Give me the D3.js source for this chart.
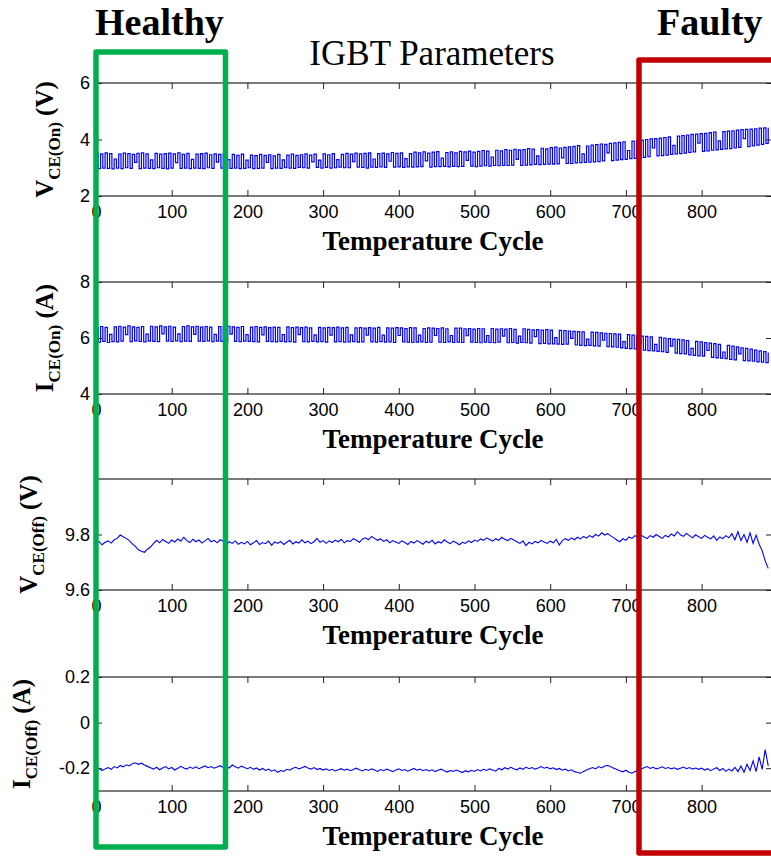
<!DOCTYPE html>
<html>
<head>
<meta charset="utf-8">
<script src="https://cdn.jsdelivr.net/npm/d3@7"></script>
<style>
  html, body { margin: 0; padding: 0; background: #fff; overflow: hidden; }
  svg { display: block; }
</style>
</head>
<body>
<svg id="chart" width="771" height="857"></svg>
<script>
// ---- Data: IGBT parameters over temperature cycles ----
const cycleMax = 893;                       // x-axis limit
const xTicks = [0, 100, 200, 300, 400, 500, 600, 700, 800];

// V_CE(On) [V], sampled every 3 cycles (switching between high/low on-state readings)
const vceOnStep = 3;
const vceOn = [
  3.52,2.97,3.49,2.99,3.53,2.98,3.50,2.96,3.31,2.99,
  3.48,2.97,3.52,3.00,3.50,2.98,3.47,3.19,3.51,2.97,
  3.53,2.99,3.49,2.98,3.28,2.97,3.51,3.00,3.48,2.98,
  3.50,2.96,3.52,2.99,3.49,3.18,3.53,2.98,3.47,2.99,
  3.51,2.97,3.30,2.99,3.48,2.98,3.50,2.97,3.52,3.00,
  3.46,2.98,3.49,3.20,3.47,2.99,3.50,2.97,3.29,2.98,
  3.47,2.99,3.44,2.97,3.48,2.98,3.27,3.00,3.45,2.97,
  3.43,2.98,3.47,2.99,3.44,3.19,3.46,2.97,3.42,2.99,
  3.47,2.98,3.28,3.00,3.45,2.99,3.48,2.98,3.44,3.01,
  3.46,3.00,3.49,2.99,3.45,3.21,3.48,3.01,3.27,2.99,
  3.49,3.01,3.46,2.99,3.50,3.00,3.29,3.02,3.47,3.00,
  3.51,3.00,3.48,3.22,3.52,3.02,3.49,3.01,3.51,2.99,
  3.53,3.02,3.31,3.01,3.50,3.03,3.52,3.01,3.49,3.23,
  3.54,3.02,3.51,3.03,3.53,3.01,3.32,3.03,3.50,3.02,
  3.55,3.03,3.53,3.04,3.56,3.24,3.52,3.02,3.55,3.04,
  3.57,3.04,3.34,3.05,3.54,3.03,3.56,3.05,3.53,3.04,
  3.58,3.05,3.56,3.26,3.59,3.06,3.55,3.04,3.58,3.06,
  3.61,3.07,3.59,3.06,3.38,3.08,3.62,3.07,3.60,3.08,
  3.64,3.08,3.62,3.09,3.65,3.30,3.63,3.08,3.64,3.09,
  3.68,3.10,3.66,3.12,3.42,3.11,3.69,3.12,3.67,3.13,
  3.71,3.13,3.73,3.14,3.70,3.35,3.72,3.15,3.74,3.15,
  3.76,3.17,3.78,3.18,3.49,3.19,3.77,3.20,3.80,3.21,
  3.82,3.22,3.84,3.24,3.83,3.53,3.86,3.25,3.88,3.27,
  3.90,3.29,3.92,3.30,3.61,3.32,3.94,3.33,3.96,3.34,
  3.98,3.37,4.00,3.39,4.02,3.70,4.03,3.42,4.05,3.43,
  4.07,3.45,4.09,3.47,3.79,3.49,4.12,3.50,4.14,3.52,
  4.16,3.54,4.18,3.56,4.19,3.87,4.21,3.58,4.22,3.60,
  4.24,3.62,4.26,3.63,3.95,3.65,4.28,3.67,4.30,3.68,
  4.31,3.70,4.33,3.72,4.35,4.03,4.36,3.75,4.37,3.77,
  4.38,3.80,4.40,3.83,4.41,3.86,4.42
];
const vceOnTicks = [2, 4, 6];

// I_CE(On) [A], sampled every 3 cycles
const iceOnStep = 3;
const iceOn = [
  6.37,5.85,6.41,5.88,6.38,5.84,6.13,5.87,6.40,5.86,
  6.42,5.89,6.39,6.12,6.43,5.87,6.40,5.90,6.38,5.88,
  6.41,5.86,6.14,5.89,6.42,5.88,6.40,5.87,6.43,6.15,
  6.40,5.89,6.42,5.88,6.39,5.90,6.15,5.87,6.41,5.89,
  6.43,5.88,6.40,6.13,6.42,5.89,6.39,5.88,6.41,5.90,
  6.39,5.87,6.13,5.89,6.41,5.88,6.40,5.86,6.42,6.14,
  6.40,5.88,6.38,5.87,6.41,5.89,6.12,5.88,6.39,5.87,
  6.41,5.86,6.38,6.11,6.40,5.88,6.37,5.87,6.39,5.86,
  6.38,5.88,6.12,5.86,6.40,5.87,6.37,5.85,6.39,6.12,
  6.37,5.87,6.39,5.86,6.36,5.88,6.11,5.86,6.38,5.87,
  6.36,5.85,6.38,6.10,6.37,5.86,6.39,5.87,6.36,5.85,
  6.38,5.86,6.11,5.87,6.36,5.85,6.37,5.86,6.35,6.10,
  6.37,5.86,6.35,5.85,6.38,5.87,6.10,5.85,6.36,5.86,
  6.35,5.84,6.37,6.09,6.36,5.86,6.34,5.85,6.37,5.84,
  6.36,5.85,6.10,5.86,6.34,5.84,6.36,5.85,6.35,6.09,
  6.34,5.85,6.36,5.84,6.33,5.86,6.09,5.84,6.35,5.85,
  6.35,5.84,6.33,6.08,6.34,5.85,6.32,5.84,6.34,5.83,
  6.33,5.85,6.09,5.84,6.34,5.83,6.32,5.85,6.33,6.07,
  6.32,5.83,6.34,5.84,6.31,5.82,6.07,5.84,6.33,5.83,
  6.31,5.82,6.29,6.05,6.30,5.80,6.28,5.81,6.30,5.79,
  6.28,5.79,6.01,5.78,6.27,5.77,6.26,5.78,6.25,5.99,
  6.24,5.75,6.23,5.74,6.22,5.73,5.96,5.74,6.21,5.72,
  6.20,5.71,6.18,5.92,6.17,5.69,6.16,5.68,6.15,5.67,
  6.14,5.65,5.87,5.63,6.12,5.62,6.10,5.61,6.09,5.81,
  6.07,5.57,6.06,5.55,6.04,5.54,5.77,5.52,6.02,5.51,
  6.00,5.49,5.98,5.71,5.96,5.46,5.95,5.44,5.93,5.43,
  5.91,5.40,5.63,5.38,5.88,5.36,5.86,5.35,5.84,5.56,
  5.82,5.31,5.80,5.29,5.77,5.28,5.50,5.26,5.74,5.24,
  5.71,5.22,5.68,5.43,5.65,5.19,5.63,5.18,5.60,5.17,
  5.57,5.15,5.54,5.14,5.51,5.12,5.48
];
const iceOnTicks = [4, 6, 8];

// V_CE(Off) [V], sampled every 4 cycles
const vceOffStep = 4;
const vceOff = [
  9.766,9.774,9.763,9.772,9.777,9.769,9.781,9.786,9.798,9.792,
  9.786,9.778,9.766,9.757,9.745,9.740,9.736,9.747,9.755,9.768,
  9.779,9.770,9.782,9.775,9.768,9.780,9.773,9.784,9.776,9.790,
  9.778,9.771,9.783,9.774,9.780,9.769,9.777,9.786,9.774,9.779,
  9.770,9.781,9.776,9.762,9.774,9.768,9.777,9.765,9.772,9.766,
  9.775,9.763,9.770,9.778,9.764,9.771,9.767,9.776,9.761,9.773,
  9.768,9.775,9.764,9.772,9.779,9.766,9.774,9.769,9.781,9.770,
  9.776,9.767,9.774,9.786,9.772,9.778,9.768,9.777,9.771,9.780,
  9.774,9.783,9.770,9.778,9.775,9.785,9.779,9.772,9.784,9.788,
  9.781,9.793,9.786,9.779,9.784,9.775,9.781,9.770,9.778,9.773,
  9.768,9.777,9.771,9.764,9.775,9.769,9.778,9.772,9.765,9.776,
  9.770,9.779,9.766,9.774,9.769,9.781,9.773,9.767,9.776,9.770,
  9.763,9.772,9.768,9.777,9.771,9.780,9.775,9.784,9.779,9.788,
  9.782,9.776,9.785,9.779,9.790,9.783,9.778,9.786,9.780,9.774,
  9.768,9.777,9.760,9.772,9.766,9.775,9.770,9.779,9.773,9.768,
  9.776,9.770,9.782,9.762,9.778,9.785,9.779,9.788,9.781,9.790,
  9.784,9.793,9.787,9.796,9.790,9.800,9.794,9.806,9.798,9.803,
  9.795,9.788,9.780,9.774,9.785,9.779,9.791,9.786,9.796,9.789,
  9.798,9.791,9.785,9.796,9.790,9.800,9.793,9.786,9.797,9.791,
  9.802,9.795,9.810,9.799,9.793,9.804,9.796,9.788,9.799,9.792,
  9.786,9.797,9.790,9.784,9.795,9.779,9.791,9.785,9.796,9.788,
  9.803,9.781,9.810,9.778,9.800,9.772,9.806,9.768,9.798,9.765,
  9.742,9.705,9.678
];
const vceOffTicks = [9.6, 9.8];

// I_CE(Off) [A], sampled every 4 cycles
const iceOffStep = 4;
const iceOff = [
  -0.206,-0.200,-0.210,-0.203,-0.197,-0.205,-0.193,-0.199,-0.188,-0.194,
  -0.185,-0.190,-0.180,-0.176,-0.183,-0.178,-0.186,-0.192,-0.198,-0.204,
  -0.196,-0.207,-0.199,-0.193,-0.203,-0.197,-0.208,-0.200,-0.192,-0.199,
  -0.204,-0.195,-0.201,-0.194,-0.202,-0.196,-0.190,-0.198,-0.193,-0.200,
  -0.195,-0.189,-0.198,-0.192,-0.199,-0.186,-0.194,-0.200,-0.191,-0.197,
  -0.202,-0.196,-0.205,-0.199,-0.208,-0.201,-0.210,-0.204,-0.213,-0.207,
  -0.218,-0.210,-0.214,-0.205,-0.209,-0.200,-0.196,-0.203,-0.198,-0.192,
  -0.199,-0.204,-0.197,-0.206,-0.201,-0.208,-0.203,-0.210,-0.205,-0.212,
  -0.207,-0.202,-0.209,-0.204,-0.211,-0.206,-0.200,-0.207,-0.212,-0.205,
  -0.210,-0.203,-0.208,-0.214,-0.206,-0.211,-0.204,-0.209,-0.215,-0.208,
  -0.203,-0.210,-0.206,-0.213,-0.207,-0.201,-0.209,-0.204,-0.211,-0.206,
  -0.212,-0.207,-0.215,-0.209,-0.204,-0.211,-0.217,-0.210,-0.214,-0.208,
  -0.213,-0.219,-0.211,-0.216,-0.209,-0.214,-0.206,-0.212,-0.205,-0.210,
  -0.203,-0.208,-0.213,-0.201,-0.207,-0.198,-0.204,-0.196,-0.202,-0.207,
  -0.199,-0.205,-0.195,-0.202,-0.197,-0.204,-0.199,-0.193,-0.200,-0.196,
  -0.203,-0.198,-0.206,-0.201,-0.209,-0.204,-0.212,-0.207,-0.215,-0.219,
  -0.222,-0.214,-0.208,-0.202,-0.197,-0.203,-0.193,-0.199,-0.190,-0.188,
  -0.194,-0.200,-0.206,-0.211,-0.216,-0.209,-0.218,-0.222,-0.215,-0.210,
  -0.204,-0.198,-0.193,-0.201,-0.196,-0.203,-0.199,-0.194,-0.201,-0.197,
  -0.203,-0.198,-0.205,-0.200,-0.195,-0.202,-0.197,-0.204,-0.199,-0.205,
  -0.200,-0.208,-0.202,-0.211,-0.203,-0.198,-0.210,-0.201,-0.214,-0.204,
  -0.212,-0.196,-0.215,-0.190,-0.218,-0.183,-0.210,-0.168,-0.215,-0.150,
  -0.205,-0.118,-0.190
];
const iceOffTicks = [-0.2, 0, 0.2];

// Text
const healthyLabel = "Healthy";
const faultyLabel = "Faulty";
const titleText = "IGBT Parameters";
const xLabelText = "Temperature Cycle";

// ---- Layout ----
const plotLeft = 96, plotRight = 772;
const panels = [
  { values: vceOn,  step: vceOnStep,  domain: [2, 6],      ticks: vceOnTicks,  top: 83,  bottom: 196, labelX: 53, sym: "V", sub: "CE(On)",  unit: "(V)", curve: d3.curveStepAfter, width: 1.2 },
  { values: iceOn,  step: iceOnStep,  domain: [4, 8],      ticks: iceOnTicks,  top: 282, bottom: 394, labelX: 53, sym: "I", sub: "CE(On)",  unit: "(A)", curve: d3.curveStepAfter, width: 1.2 },
  { values: vceOff, step: vceOffStep, domain: [9.6, 10.0], ticks: vceOffTicks, top: 479, bottom: 590, labelX: 37, sym: "V", sub: "CE(Off)", unit: "(V)", curve: d3.curveLinear, width: 1.1 },
  { values: iceOff, step: iceOffStep, domain: [-0.3, 0.2], ticks: iceOffTicks, top: 677, bottom: 791, labelX: 30, sym: "I", sub: "CE(Off)", unit: "(A)", curve: d3.curveLinear, width: 1.1 }
];

const sansFont = "'Liberation Sans', Arial, sans-serif";
const serifFont = "'Liberation Serif', 'Times New Roman', serif";
const axisColor = "#222";

const svg = d3.select("#chart");
svg.append("rect").attr("width", 771).attr("height", 857).attr("fill", "#fff");

const x = d3.scaleLinear().domain([0, cycleMax]).range([plotLeft, plotRight]);

function styleAxis(g) {
  g.select(".domain").remove();
  g.selectAll(".tick line").attr("stroke", axisColor).attr("stroke-width", 1);
  g.selectAll(".tick text")
    .attr("fill", "#000")
    .style("font-family", sansFont)
    .style("font-size", "18px");
}

panels.forEach(p => {
  const y = d3.scaleLinear().domain(p.domain).range([p.bottom, p.top]);
  const g = svg.append("g");

  // measured trace
  const line = d3.line()
    .x((d, i) => x(i * p.step))
    .y(d => y(d))
    .curve(p.curve);
  g.append("path")
    .datum(p.values)
    .attr("d", line)
    .attr("fill", "none")
    .attr("stroke", "#0000ff")
    .attr("stroke-width", p.width);

  // axes box
  g.append("rect")
    .attr("x", plotLeft).attr("y", p.top)
    .attr("width", plotRight - plotLeft).attr("height", p.bottom - p.top)
    .attr("fill", "none").attr("stroke", axisColor).attr("stroke-width", 1.2);

  // bottom ticks with labels (inward)
  g.append("g")
    .attr("transform", `translate(0,${p.bottom})`)
    .call(d3.axisBottom(x).tickValues(xTicks).tickSizeInner(-6).tickSizeOuter(0)
      .tickPadding(9).tickFormat(d => String(d)))
    .call(styleAxis);

  // top ticks (no labels)
  g.append("g")
    .attr("transform", `translate(0,${p.top})`)
    .call(d3.axisTop(x).tickValues(xTicks).tickSizeInner(-6).tickSizeOuter(0).tickFormat(""))
    .call(styleAxis);

  // left ticks with labels
  g.append("g")
    .attr("transform", `translate(${plotLeft},0)`)
    .call(d3.axisLeft(y).tickValues(p.ticks).tickSizeInner(-6).tickSizeOuter(0)
      .tickPadding(6).tickFormat(d => String(d)))
    .call(styleAxis);

  // right ticks
  g.append("g")
    .attr("transform", `translate(${plotRight},0)`)
    .call(d3.axisRight(y).tickValues(p.ticks).tickSizeInner(-6).tickSizeOuter(0).tickFormat(""))
    .call(styleAxis);

  // x label
  g.append("text")
    .attr("x", 433)
    .attr("y", p.bottom + 54)
    .attr("text-anchor", "middle")
    .style("font-family", serifFont)
    .style("font-weight", "bold")
    .style("font-size", "27px")
    .text(xLabelText);

  // y label with subscript
  const yl = g.append("text")
    .attr("transform", `translate(${p.labelX},${(p.top + p.bottom) / 2}) rotate(-90)`)
    .attr("text-anchor", "middle")
    .style("font-family", serifFont)
    .style("font-weight", "bold")
    .style("font-size", "25px");
  yl.append("tspan").text(p.sym);
  yl.append("tspan").attr("dy", 7).style("font-size", "17px").text(p.sub);
  yl.append("tspan").attr("dy", -7).text("\u00a0" + p.unit);
});

// title
svg.append("text")
  .attr("x", 432).attr("y", 65)
  .attr("text-anchor", "middle")
  .style("font-family", serifFont)
  .style("font-size", "35px")
  .text(titleText);

// healthy window
svg.append("rect")
  .attr("x", 96).attr("y", 52).attr("width", 129.5).attr("height", 795)
  .attr("fill", "none").attr("stroke", "#00b050").attr("stroke-width", 5.5)
  .attr("stroke-linejoin", "round");
svg.append("text")
  .attr("x", 95).attr("y", 35)
  .style("font-family", serifFont).style("font-weight", "bold").style("font-size", "38px")
  .text(healthyLabel);

// faulty window
svg.append("rect")
  .attr("x", 639).attr("y", 60).attr("width", 200).attr("height", 793)
  .attr("fill", "none").attr("stroke", "#c00000").attr("stroke-width", 5.5)
  .attr("stroke-linejoin", "round");
svg.append("text")
  .attr("x", 657).attr("y", 35)
  .style("font-family", serifFont).style("font-weight", "bold").style("font-size", "38px")
  .text(faultyLabel);
</script>
</body>
</html>
